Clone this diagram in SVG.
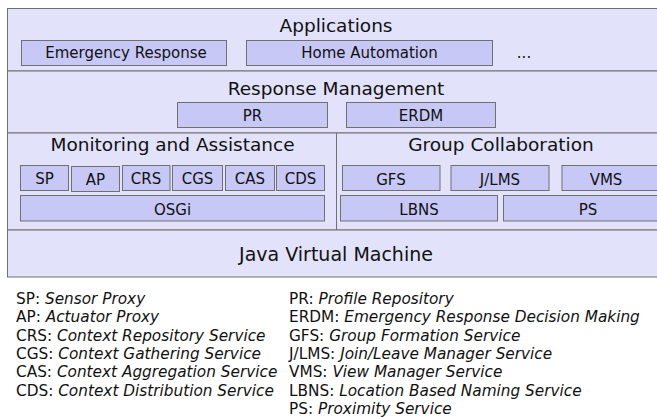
<svg xmlns="http://www.w3.org/2000/svg" width="657" height="417" viewBox="0 0 657 417">
<style>
text{font-family:"DejaVu Sans","Liberation Sans",sans-serif;fill:#111}
.band{fill:#e2e2fa;stroke:#707070;stroke-width:1}
.box{fill:#c8c8f6;stroke:#707070;stroke-width:1}
.title{font-size:18.5px;text-anchor:middle}
.lbl{font-size:15px;text-anchor:middle}
.leg{font-size:15.3px}
.it{font-style:italic}
</style>
<rect width="657" height="417" fill="#ffffff"/>
<g id="layers">
<rect class="band" x="7.5" y="8.5" width="660" height="62.5"/>
<rect class="band" x="7.5" y="71" width="660" height="62"/>
<rect class="band" x="7.5" y="133" width="660" height="97"/>
<rect class="band" x="7.5" y="230" width="660" height="47"/>
<line x1="336.5" y1="133" x2="336.5" y2="230" stroke="#707070" stroke-width="1"/>
</g>
<g id="applications"><text class="title" x="336" y="32">Applications</text></g>
<g id="emergency-response"><rect class="box" x="21.5" y="40.5" width="205" height="25"/><text class="lbl" x="126" y="57.5">Emergency Response</text></g>
<g id="home-automation"><rect class="box" x="246.5" y="40.5" width="246" height="25"/><text class="lbl" x="369.5" y="57.5">Home Automation</text></g>
<g id="more-apps"><text class="lbl" x="524" y="57.5">...</text></g>
<g id="response-management"><text class="title" x="336" y="95">Response Management</text></g>
<g id="pr"><rect class="box" x="177.5" y="102.5" width="150" height="25"/><text class="lbl" x="252.5" y="120.5">PR</text></g>
<g id="erdm"><rect class="box" x="346.5" y="102.5" width="149" height="25"/><text class="lbl" x="421" y="120.5">ERDM</text></g>
<g id="monitoring"><text class="title" x="172.5" y="151">Monitoring and Assistance</text></g>
<g id="sp"><rect class="box" x="20.5" y="165.5" width="48" height="25"/><text class="lbl" x="44.5" y="184">SP</text></g>
<g id="ap"><rect class="box" x="71.5" y="166.5" width="48" height="25"/><text class="lbl" x="95.5" y="184.5">AP</text></g>
<g id="crs"><rect class="box" x="122.5" y="165.5" width="47.5" height="25"/><text class="lbl" x="146" y="184">CRS</text></g>
<g id="cgs"><rect class="box" x="172.5" y="165.5" width="50" height="25"/><text class="lbl" x="197.5" y="184">CGS</text></g>
<g id="cas"><rect class="box" x="225.5" y="165.5" width="49" height="25"/><text class="lbl" x="250" y="184">CAS</text></g>
<g id="cds"><rect class="box" x="276.5" y="165.5" width="48" height="25"/><text class="lbl" x="300.5" y="184">CDS</text></g>
<g id="osgi"><rect class="box" x="20.5" y="195.5" width="304" height="25.5"/><text class="lbl" x="172.5" y="214.5">OSGi</text></g>
<g id="group-collaboration"><text class="title" x="501" y="151">Group Collaboration</text></g>
<g id="gfs"><rect class="box" x="342.5" y="165.5" width="97.5" height="25"/><text class="lbl" x="391" y="184.5">GFS</text></g>
<g id="jlms"><rect class="box" x="451" y="165.5" width="98" height="25"/><text class="lbl" x="500" y="184.5">J/LMS</text></g>
<g id="vms"><rect class="box" x="562" y="165.5" width="100" height="25"/><text class="lbl" x="606" y="184.5">VMS</text></g>
<g id="lbns"><rect class="box" x="340.5" y="195.5" width="157" height="25.5"/><text class="lbl" x="419" y="214.5">LBNS</text></g>
<g id="ps"><rect class="box" x="503.5" y="195.5" width="170" height="25.5"/><text class="lbl" x="588" y="214.5">PS</text></g>
<g id="jvm"><text class="title" x="336" y="261" style="font-size:19px">Java Virtual Machine</text></g>
<g id="legend-left">
<text class="leg" x="16" y="304">SP: <tspan class="it">Sensor Proxy</tspan></text>
<text class="leg" x="16" y="322.3">AP: <tspan class="it">Actuator Proxy</tspan></text>
<text class="leg" x="16" y="340.6">CRS: <tspan class="it">Context Repository Service</tspan></text>
<text class="leg" x="16" y="358.9">CGS: <tspan class="it">Context Gathering Service</tspan></text>
<text class="leg" x="16" y="377.2">CAS: <tspan class="it">Context Aggregation Service</tspan></text>
<text class="leg" x="16" y="395.5">CDS: <tspan class="it">Context Distribution Service</tspan></text>
</g>
<g id="legend-right">
<text class="leg" x="289" y="304">PR: <tspan class="it">Profile Repository</tspan></text>
<text class="leg" x="289" y="322.3">ERDM: <tspan class="it">Emergency Response Decision Making</tspan></text>
<text class="leg" x="289" y="340.6">GFS: <tspan class="it">Group Formation Service</tspan></text>
<text class="leg" x="289" y="358.9">J/LMS: <tspan class="it">Join/Leave Manager Service</tspan></text>
<text class="leg" x="289" y="377.2">VMS: <tspan class="it">View Manager Service</tspan></text>
<text class="leg" x="289" y="395.5">LBNS: <tspan class="it">Location Based Naming Service</tspan></text>
<text class="leg" x="289" y="413.8">PS: <tspan class="it">Proximity Service</tspan></text>
</g>
</svg>
